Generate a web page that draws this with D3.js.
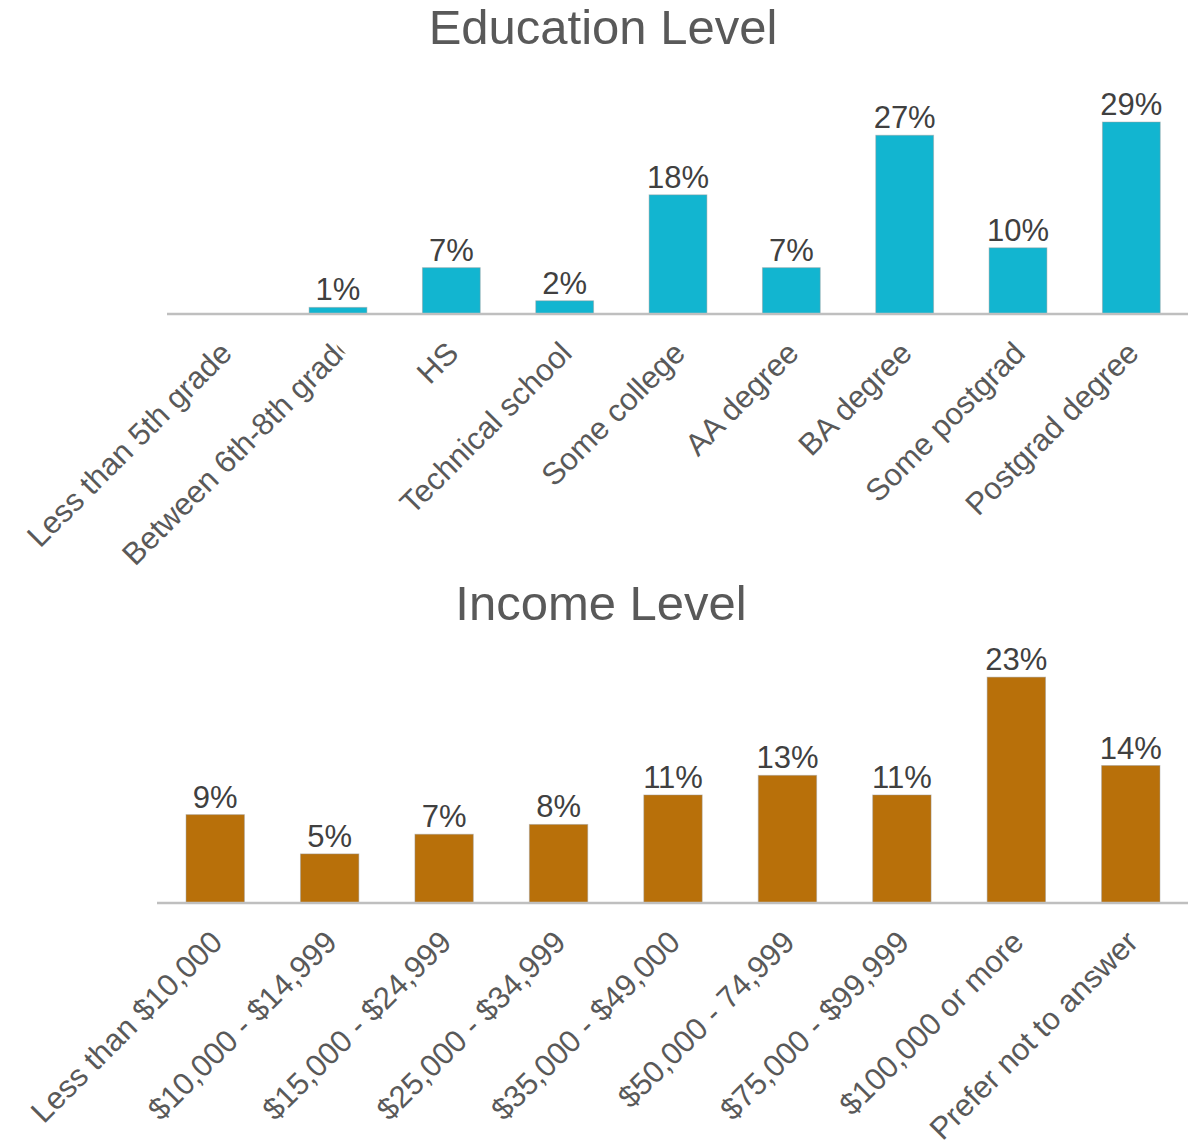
<!DOCTYPE html>
<html>
<head>
<meta charset="utf-8">
<script src="https://cdn.jsdelivr.net/npm/d3@7"></script>
<style>
  html, body { margin: 0; padding: 0; background: #ffffff; }
  svg { display: block; font-family: "Liberation Sans", Arial, sans-serif; }
</style>
</head>
<body>
<svg id="chart" width="1188" height="1147"></svg>
<script>
// Survey demographics: share of respondents by education and by income
const educationCategories = [
  "Less than 5th grade", "Between 6th-8th grade", "HS", "Technical school",
  "Some college", "AA degree", "BA degree", "Some postgrad", "Postgrad degree"
];
const educationValues = [0, 1, 7, 2, 18, 7, 27, 10, 29];

const incomeCategories = [
  "Less than $10,000", "$10,000 - $14,999", "$15,000 - $24,999", "$25,000 - $34,999",
  "$35,000 - $49,000", "$50,000 - 74,999", "$75,000 - $99,999", "$100,000 or more",
  "Prefer not to answer"
];
const incomeValues = [9, 5, 7, 8, 11, 13, 11, 23, 14];

const svg = d3.select("#chart");

function drawPanel(opts) {
  const g = svg.append("g");

  const x = d3.scaleBand()
    .domain(opts.categories)
    .range([opts.left, opts.right])
    .paddingInner(0.49)
    .paddingOuter(0.245);

  const y = d3.scaleLinear()
    .domain([0, opts.yMax])
    .range([opts.baseline, opts.baseline - opts.pxPerUnit * opts.yMax]);

  const data = opts.categories.map((c, i) => ({ c, v: opts.values[i] }));

  // title
  g.append("text")
    .attr("x", opts.titleX)
    .attr("y", opts.titleY)
    .attr("text-anchor", "middle")
    .attr("font-size", 49)
    .attr("fill", "#595959")
    .text(opts.title);

  // bars
  g.selectAll("rect.bar")
    .data(data.filter(d => d.v > 0))
    .join("rect")
    .attr("class", "bar")
    .attr("x", d => x(d.c))
    .attr("width", x.bandwidth())
    .attr("y", d => y(d.v))
    .attr("height", d => y(0) - y(d.v))
    .attr("fill", opts.color)
    .attr("stroke", "#9a9a9a")
    .attr("stroke-opacity", 0.45)
    .attr("stroke-width", 1);

  // value labels
  g.selectAll("text.value")
    .data(data.filter(d => d.v > 0))
    .join("text")
    .attr("class", "value")
    .attr("x", d => x(d.c) + x.bandwidth() / 2)
    .attr("y", d => y(d.v) - 7)
    .attr("text-anchor", "middle")
    .attr("font-size", 31)
    .attr("fill", "#404040")
    .text(d => d.v + "%");

  // category axis
  const axis = d3.axisBottom(x).tickSize(0).tickPadding(0);
  const ax = g.append("g")
    .attr("transform", `translate(0,${opts.baseline})`)
    .call(axis);
  ax.select(".domain")
    .attr("d", `M${opts.axisLeft},0H${opts.right}`)
    .attr("stroke", "#bfbfbf")
    .attr("stroke-width", 2.5);

  ax.selectAll(".tick text")
    .attr("font-size", 31)
    .attr("font-family", "Liberation Sans, Arial, sans-serif")
    .attr("fill", "#595959")
    .attr("text-anchor", "end")
    .attr("y", 0)
    .attr("dy", 0)
    .attr("transform", "translate(9,41) rotate(-45)")
    .each(function (d) {
      const t = opts.truncated && opts.truncated[d];
      if (t) {
        // label runs past its slot and is cut off at the tick
        const id = "clip-" + opts.id;
        ax.append("clipPath").attr("id", id)
          .append("rect")
          .attr("x", -600).attr("y", -40).attr("width", 600).attr("height", 80);
        d3.select(this).attr("x", t).attr("clip-path", `url(#${id})`);
      }
    });
}

drawPanel({
  id: "edu",
  title: "Education Level",
  titleX: 603, titleY: 44,
  categories: educationCategories,
  values: educationValues,
  color: "#12b5d0",
  left: 168, right: 1188, axisLeft: 167,
  baseline: 314,
  yMax: 30, pxPerUnit: 6.62,
  truncated: { "Between 6th-8th grade": 14 }
});

drawPanel({
  id: "inc",
  title: "Income Level",
  titleX: 601, titleY: 620,
  categories: incomeCategories,
  values: incomeValues,
  color: "#b8700a",
  left: 158, right: 1188, axisLeft: 157,
  baseline: 903,
  yMax: 25, pxPerUnit: 9.82
});
</script>
</body>
</html>
